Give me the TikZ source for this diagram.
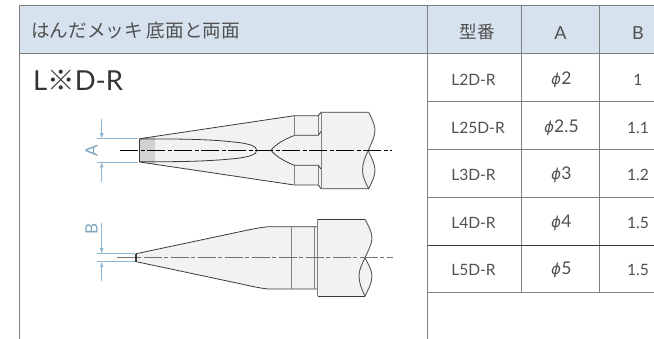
\documentclass[tikz,border=0pt]{standalone}
\usepackage{fontspec}
\setmainfont{Lato}
\newfontfamily\cjk{Noto Sans CJK JP}
\newfontfamily\phifont{DejaVu Sans}[FakeSlant=0.2]
\usetikzlibrary{arrows.meta}
\definecolor{headblue}{HTML}{D6E2EE}
\definecolor{gridgray}{HTML}{808080}
\definecolor{txtgray}{HTML}{505050}
\definecolor{dimblue}{HTML}{8DB6D3}
\definecolor{bodyfill}{HTML}{F1F3F3}
\definecolor{tipfill}{HTML}{D2D2D2}
\definecolor{outl}{HTML}{3A3A3A}
\tikzset{
  grid line/.style={draw=gridgray,line width=1pt},
  thin grid/.style={draw=outl,line width=.6pt},
  cell/.style={text=txtgray,font=\fontsize{15.6}{17}\selectfont,inner sep=0pt,anchor=center},
  numcell/.style={text=txtgray,font=\fontsize{17.5}{19}\selectfont,inner sep=0pt,anchor=center},
  hcell/.style={text=txtgray,font=\fontsize{18}{20}\selectfont,inner sep=0pt,anchor=center},
  outline/.style={draw=outl,line width=.8pt,line join=round},
  heavy/.style={draw=gray,line width=1pt},
  center black/.style={draw=black,line width=.6pt,dash pattern=on 18pt off 2.5pt on 4pt off 2.5pt},
  center gray/.style={draw=gray!90!black,line width=1.5pt,dash pattern=on 18pt off 2.5pt on 4pt off 2.5pt},
  dim/.style={draw=dimblue,line width=.8pt},
  dimarrow/.style={draw=dimblue,line width=.8pt,-{Latex[length=5.5pt,width=4pt]}},
  dimtext/.style={text=dimblue!90!black,font=\fontsize{17}{19}\selectfont,inner sep=0pt,rotate=90},
}
\newcommand{\phisym}{{\phifont\fontsize{15}{17}\selectfont ϕ}\kern1pt}
\begin{document}
\begin{tikzpicture}[x=1pt,y=-1pt]
\useasboundingbox (0,0) rectangle (654,339);
% header
\fill[headblue] (19,6) rectangle (654,54);
\draw[grid line] (19,6) -- (654,6);
\draw[grid line] (19,54) -- (654,54);
\draw[grid line] (19,6) -- (19,339);
\draw[grid line] (427.5,6) -- (427.5,339);
\draw[grid line] (521,6) -- (521,293);
\draw[grid line] (599,6) -- (599,293);
\draw[grid line] (427.5,102) -- (654,102);
\draw[grid line] (427.5,150) -- (654,150);
\draw[grid line] (427.5,197.5) -- (654,197.5);
\draw[thin grid] (427.5,245.5) -- (654,245.5);
\draw[grid line] (427.5,293) -- (654,293);
% texts
\node[inner sep=0pt,anchor=west,text=txtgray,font=\cjk\fontsize{18.6}{20}\selectfont] (title) at (31,30) {はんだメッキ 底面と両面};
\node[inner sep=0pt,anchor=west,text=black!80,font=\fontsize{27.5}{30}\selectfont] (model) at (33,80.5) {L{\cjk ※}D-R};
\node[hcell,font=\cjk\fontsize{17.5}{19}\selectfont] (h1) at (477,32) {型番};
\node[hcell] (h2) at (560.5,33) {A};
\node[hcell] (h3) at (638,33) {B};
\node[cell] (a1) at (473.5,80) {L2D-R};
\node[cell] (a2) at (478,128) {L25D-R};
\node[cell] (a3) at (473.5,175) {L3D-R};
\node[cell] (a4) at (473.5,223) {L4D-R};
\node[cell] (a5) at (473.5,270) {L5D-R};
\node[numcell] (b1) at (561,80) {\phisym 2};
\node[numcell] (b2) at (561,128) {\phisym 2.5};
\node[numcell] (b3) at (561,175) {\phisym 3};
\node[numcell] (b4) at (561,223) {\phisym 4};
\node[numcell] (b5) at (561,270) {\phisym 5};
\node[cell] (c1) at (638,80) {1};
\node[cell] (c2) at (638,128) {1.1};
\node[cell] (c3) at (638,175) {1.2};
\node[cell] (c4) at (638,223) {1.5};
\node[cell] (c5) at (638,270) {1.5};
% upper tip
\fill[bodyfill] (139.7,138.7) -- (294.3,115.7) -- (318.3,115.7) -- (321,112.3) -- (368.7,112.3)
  .. controls (372,119) and (375,125) .. (375,130) .. controls (375,137) and (371,144) .. (368.3,150.3)
  .. controls (371,157) and (375,164) .. (375,170) .. controls (375,176) and (372,182) .. (368.7,188.7)
  -- (321,188.7) -- (318.3,185) -- (294.3,185) -- (139.7,162) -- cycle;
\fill[tipfill] (139.7,138.7) -- (155,136.5) -- (155,164.3) -- (139.7,162) -- cycle;
\draw[outline] (139.7,138.7) -- (294.3,115.7) -- (318.3,115.7) -- (321,112.3) -- (368.7,112.3);
\draw[outline] (139.7,162) -- (294.3,185) -- (318.3,185) -- (321,188.7) -- (368.7,188.7);
\draw[outline,line width=1.2pt] (139.7,138.7) -- (139.7,162);
\draw[heavy] (294.3,115.7) -- (294.3,135.5);
\draw[heavy] (294.3,165.3) -- (294.3,185);
\draw[heavy] (318.3,115.7) -- (318.3,135);
\draw[heavy] (318.3,165.5) -- (318.3,185);
\draw[heavy] (321,112.3) -- (321,188.7);
\draw[outline] (294.3,135.3) -- (318.3,135.3) -- (321,131.5);
\draw[outline] (294.3,165.3) -- (318.3,165.3) -- (321,169);
\draw[outline] (294.3,135.5) .. controls (284,139.5) and (276,144) .. (271,150.3) .. controls (276,156.5) and (284,161) .. (294.3,165.3);
\draw[outline] (139.7,138.9) .. controls (180,138.9) and (210,139) .. (240,142.7) .. controls (250,144.3) and (256.7,146) .. (256.7,150.3)
  .. controls (256.7,154.6) and (250,156.3) .. (240,158) .. controls (210,161.5) and (180,161.8) .. (139.7,161.8);
\draw[draw=gray!70!black,line width=.9pt] (368.7,112.3) .. controls (372,119) and (375,125) .. (375,130) .. controls (375,137) and (371,144) .. (368.3,150.3)
  .. controls (371,157) and (375,164) .. (375,170) .. controls (375,176) and (372,182) .. (368.7,188.7)
  .. controls (365,182) and (362.5,176) .. (362.5,170) .. controls (362.5,164) and (365,157) .. (368.3,150.3);
\coordinate (axisAw) at (120,150.3);
\coordinate (axisAe) at (391.7,150.3);
\draw[center black] (axisAw) -- (axisAe);
% dimension A
\coordinate (aTop) at (101.7,119.3);
\coordinate (aBot) at (101.7,181.7);
\coordinate (aUp) at (101.7,138.7);
\coordinate (aLo) at (101.7,162);
\draw[dim] (97.3,138.7) -- (138,138.7);
\draw[dim] (97.3,162) -- (138,162);
\draw[dimarrow] (aTop) -- (aUp);
\draw[dimarrow] (aBot) -- (aLo);
\node[dimtext] (dimA) at (91.5,150.3) {A};
% lower tip
\fill[bodyfill] (136,253.7) -- (137.7,253.4) -- (240,231.7) .. controls (250,229.5) and (260,227.5) .. (268.3,226.7) -- (317.7,226.7) -- (317.7,219.3) -- (365,219.3)
  .. controls (368,225) and (372,232) .. (372,238) .. controls (372,244) and (368,251) .. (365,257.7)
  .. controls (368,264) and (372,270) .. (372,276) .. controls (372,283) and (368,290) .. (365,296)
  -- (317.7,296) -- (317.7,289) -- (268.3,289) .. controls (260,288.2) and (250,286) .. (240,283.7) -- (137.7,262) -- (136,261.7) -- cycle;
\draw[outline] (136,253.7) -- (137.7,253.4) -- (240,231.7) .. controls (250,229.5) and (260,227.5) .. (268.3,226.7) -- (317.7,226.7);
\draw[outline] (136,261.7) -- (137.7,262) -- (240,283.7) .. controls (250,286) and (260,288.2) .. (268.3,289) -- (317.7,289);
\draw[outline,line width=1.2pt] (136,253.7) -- (136,261.7);
\draw[outline] (317.7,219.3) -- (365,219.3);
\draw[outline] (317.7,296) -- (365,296);
\draw[heavy] (291.3,226.7) -- (291.3,289);
\draw[heavy] (314,226.7) -- (314,289);
\draw[heavy] (317.7,219.3) -- (317.7,296);
\draw[draw=gray!70!black,line width=.9pt] (365,219.3) .. controls (368,225) and (372,232) .. (372,238) .. controls (372,244) and (368,251) .. (365,257.7)
  .. controls (368,264) and (372,270) .. (372,276) .. controls (372,283) and (368,290) .. (365,296)
  .. controls (362,290) and (359,283) .. (359,276) .. controls (359,270) and (362,264) .. (365,257.7);
\coordinate (axisBw) at (116.7,257.7);
\coordinate (axisBe) at (393.3,257.7);
\draw[center gray] (axisBw) -- (axisBe);
% dimension B
\coordinate (bTop) at (101.7,223.3);
\coordinate (bBot) at (101.7,281);
\coordinate (bUp) at (101.7,253.7);
\coordinate (bLo) at (101.7,261.7);
\draw[dim] (97.3,253.7) -- (135,253.7);
\draw[dim] (97.3,261.7) -- (135,261.7);
\draw[dimarrow] (bTop) -- (bUp);
\draw[dimarrow] (bBot) -- (bLo);
\node[dimtext] (dimB) at (91.5,229) {B};
\end{tikzpicture}
\end{document}
